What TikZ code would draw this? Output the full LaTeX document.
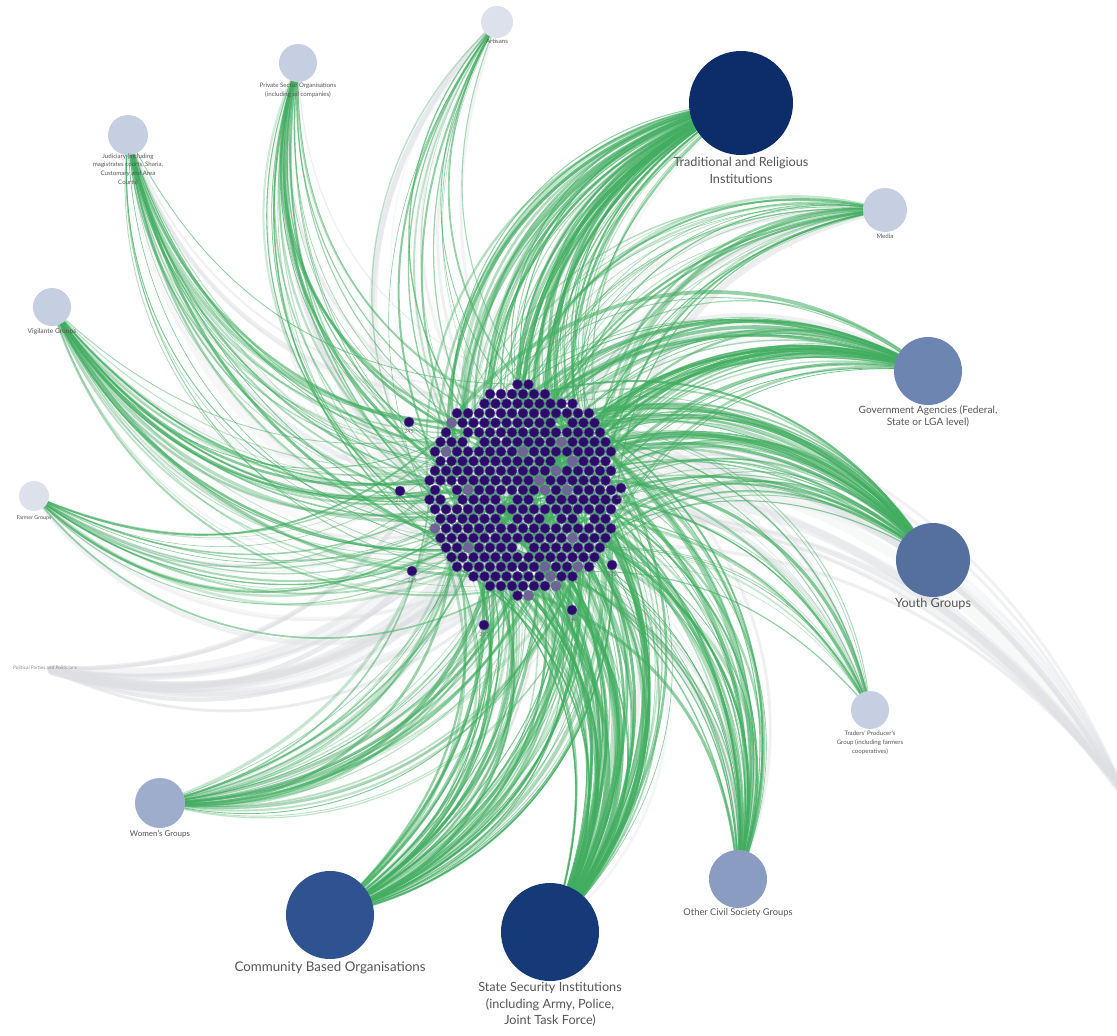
\documentclass[tikz,border=0pt]{standalone}
\usepackage{fontspec}
\setmainfont{Lato}
\usetikzlibrary{calc}

\definecolor{edgegreen}{HTML}{40AD5F}
\definecolor{edgegray}{HTML}{DDDFE3}
\definecolor{dotfill}{HTML}{2C0B69}
\definecolor{dotrim}{HTML}{6A55A8}
\definecolor{dotpale}{HTML}{6E6496}
\definecolor{labelgray}{HTML}{555555}
\definecolor{nPale}{HTML}{DCE1EC}
\definecolor{nLight}{HTML}{C6CEE1}
\definecolor{nWomen}{HTML}{9DADCB}
\definecolor{nOther}{HTML}{8A9CC1}
\definecolor{nGov}{HTML}{6D85B1}
\definecolor{nYouth}{HTML}{55709F}
\definecolor{nCBO}{HTML}{2F5290}
\definecolor{nState}{HTML}{163A78}
\definecolor{nTrad}{HTML}{0C2D69}

\pgfdeclarelayer{bg}
\pgfdeclarelayer{edges}
\pgfsetlayers{bg,edges,main}

\newcount\dotcount

\tikzset{
  actor/.style={circle, inner sep=0pt, draw=none},
  dot/.style={circle, inner sep=0pt, minimum size=7.6pt, fill=dotfill, draw=dotrim, line width=0.35pt},
  lbl/.style={text=labelgray, align=center, inner sep=0pt, anchor=north},
  biglbl/.style={lbl, font=\fontsize{9.5}{12.5}\selectfont},
  midlbl/.style={lbl, font=\fontsize{7}{9}\selectfont},
  smalllbl/.style={lbl, font=\fontsize{4.6}{6.6}\selectfont},
  numlbl/.style={text=labelgray!80, inner sep=0pt, font=\fontsize{4}{5}\selectfont},
  greenedge/.style={edgegreen, line cap=round},
  grayedge/.style={edgegray, line cap=round},
}

% fan of curved ties from one actor into the cluster
% #1 source, #2 count, #3 base bend, #4 style, #5 width scale, #6 base opacity
\newcommand\spray[6]{%
  \foreach \k in {1,...,#2}{
    \pgfmathtruncatemacro\tgt{1+int(rnd*(\ndots-1))}
    \pgfmathsetmacro\ww{(0.35+2.2*rnd*rnd)*#5}
    \pgfmathsetmacro\oo{#6+0.45*rnd}
    \pgfmathsetmacro\bb{#3+14*rnd}
    \draw[#4, line width=\ww pt, draw opacity=\oo] (#1) to[bend right=\bb] (d\tgt);
  }}

\begin{document}
\begin{tikzpicture}[x=0.75pt,y=-0.75pt]
\pgfmathsetseed{4127}
\useasboundingbox (0,0) rectangle (1117,1035);
\begin{pgfonlayer}{bg}
  \fill[white] (0,0) rectangle (1117,1035);
\end{pgfonlayer}

% ---- cluster of individual respondents (hex packed) ----
\global\dotcount=0
\foreach \j in {-11,...,11}{
  \foreach \i in {-9,...,9}{
    \pgfmathsetmacro\px{\i*11+mod(abs(\j),2)*5.5}
    \pgfmathsetmacro\py{\j*9.6}
    \pgfmathtruncatemacro\inside{((\px/97)^2+(\py/107)^2<=1)?1:0}
    \ifnum\inside=1
      \pgfmathsetmacro\rv{rnd}
      \pgfmathtruncatemacro\gap{\rv<0.045?1:0}
      \ifnum\gap=0
        \global\advance\dotcount by 1
        \pgfmathtruncatemacro\nn{\dotcount}
        \pgfmathtruncatemacro\pale{\rv<0.09?1:0}
        \ifnum\pale=1
          \node[dot, fill=dotpale, draw=dotpale] (d\nn) at ({523+\px},{490+\py}) {};
        \else
          \node[dot] (d\nn) at ({523+\px},{490+\py}) {};
        \fi
      \fi
    \fi
  }
}
\xdef\ndots{\the\dotcount}

% outlying respondents
\node[dot] (o245) at (409,422) {};
\node[dot] (o210) at (400,491) {};
\node[dot] (o225) at (412,571) {};
\node[dot] (o287) at (621,488) {};
\node[dot] (o232) at (612,565) {};
\node[dot] (o244) at (572,610) {};
\node[dot] (o250) at (484,625) {};
\node[numlbl] at (409,432) {245};
\node[numlbl] at (400,501) {210};
\node[numlbl] at (412,581) {225};
\node[numlbl] at (621,498) {287};
\node[numlbl] at (612,575) {232};
\node[numlbl] at (572,620) {244};
\node[numlbl] at (484,635) {250};

% ---- stakeholder groups ----
\node[actor, fill=nPale,  minimum size=24pt]   (art)   at (497,22)  {};
\node[actor, fill=nLight, minimum size=28.5pt] (priv)  at (298,63)  {};
\node[actor, fill=nLight, minimum size=30pt]   (jud)   at (128,135) {};
\node[actor, fill=nLight, minimum size=28.5pt] (vig)   at (52,307)  {};
\node[actor, fill=nPale,  minimum size=22.5pt] (farm)  at (34,496)  {};
\node[actor, fill=nTrad,  minimum size=78pt]   (trad)  at (741,103) {};
\node[actor, fill=nLight, minimum size=33pt]   (media) at (885,210) {};
\node[actor, fill=nGov,   minimum size=51pt]   (gov)   at (928,371) {};
\node[actor, fill=nYouth, minimum size=55.5pt] (youth) at (933,560) {};
\node[actor, fill=nLight, minimum size=28.5pt] (trade) at (870,710) {};
\node[actor, fill=nOther, minimum size=43.5pt] (other) at (738,879) {};
\node[actor, fill=nWomen, minimum size=37.5pt] (women) at (160,803) {};
\node[actor, fill=nCBO,   minimum size=66pt]   (cbo)   at (330,915) {};
\node[actor, fill=nState, minimum size=73.5pt] (state) at (550,932) {};
\coordinate (east) at (1125,795);
\coordinate (west) at (45,668);

% ---- labels ----
\node[biglbl] at (741,157) {Traditional and Religious\\Institutions};
\node[midlbl, font=\fontsize{7.6}{9.6}\selectfont] at (928,405) {Government Agencies (Federal,\\State or LGA level)};
\node[biglbl] at (933,598) {Youth Groups};
\node[midlbl] at (738,908) {Other Civil Society Groups};
\node[midlbl, font=\fontsize{6}{8}\selectfont] at (160,830) {Women's Groups};
\node[biglbl, font=\fontsize{10}{12.5}\selectfont] at (330,961) {Community Based Organisations};
\node[biglbl] at (550,982) {State Security Institutions\\(including Army, Police,\\Joint Task Force)};
\node[smalllbl] at (885,234) {Media};
\node[smalllbl] at (870,731) {Traders' Producer's\\Group (including farmers\\cooperatives)};
\node[smalllbl] at (298,83) {Private Sector Organisations\\(including oil companies)};
\node[smalllbl] at (128,153) {Judiciary (including\\magistrates courts, Sharia,\\Customary and Area\\Courts)};
\node[smalllbl] at (497,39) {Artisans};
\node[smalllbl, font=\fontsize{5}{6}\selectfont] at (52,328) {Vigilante Groups};
\node[smalllbl, font=\fontsize{4}{5}\selectfont] at (34,515) {Farmer Groups};
\node[numlbl, text=labelgray!70, font=\fontsize{3.6}{4}\selectfont] (wlbl) at (west) {Political Parties and Politicians};

% ---- ties ----
\begin{pgfonlayer}{edges}
  % faint grey ties
  \spray{east}{16}{24}{grayedge}{4}{0.2}
  \spray{wlbl}{16}{26}{grayedge}{4}{0.2}
  \foreach \src in {art,priv,jud,vig,farm,trad,media,gov,youth,trade,other,women,cbo,state}{
    \spray{\src}{8}{30}{grayedge}{2.5}{0.15}
  }
  % green ties
  \spray{art}{14}{30}{greenedge}{1.1}{0.25}
  \spray{priv}{28}{30}{greenedge}{1.3}{0.25}
  \spray{jud}{30}{30}{greenedge}{1.3}{0.25}
  \spray{vig}{30}{30}{greenedge}{1.3}{0.25}
  \spray{farm}{20}{30}{greenedge}{1.2}{0.25}
  \spray{trad}{75}{30}{greenedge}{1.6}{0.3}
  \spray{media}{32}{30}{greenedge}{1.3}{0.25}
  \spray{gov}{50}{30}{greenedge}{1.5}{0.3}
  \spray{youth}{55}{30}{greenedge}{1.5}{0.3}
  \spray{trade}{20}{30}{greenedge}{1.1}{0.25}
  \spray{other}{42}{30}{greenedge}{1.4}{0.3}
  \spray{women}{35}{30}{greenedge}{1.4}{0.25}
  \spray{cbo}{60}{30}{greenedge}{1.5}{0.3}
  \spray{state}{70}{30}{greenedge}{1.6}{0.3}
\end{pgfonlayer}
\end{tikzpicture}
\end{document}
